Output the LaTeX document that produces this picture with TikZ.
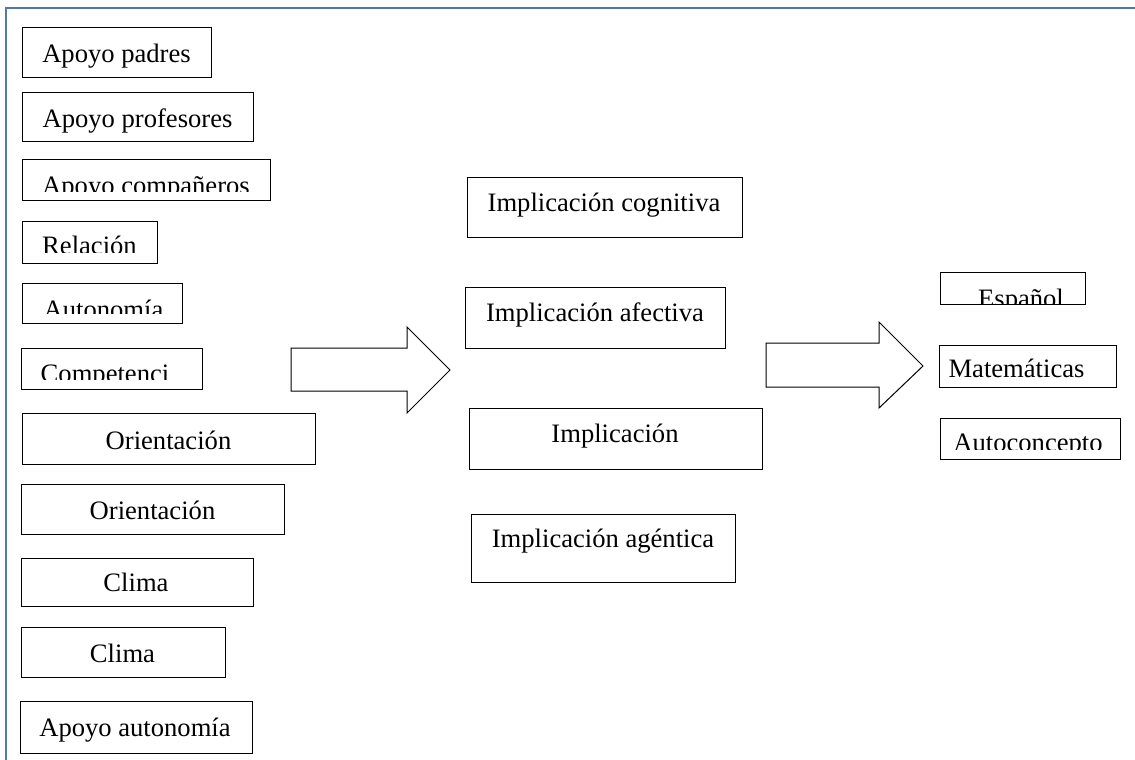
\documentclass[tikz,border=0pt]{standalone}
\usepackage{fontspec}
\setmainfont{Liberation Serif}
\usetikzlibrary{fit}

\definecolor{framecol}{RGB}{79,122,173}

\begin{document}
\begin{tikzpicture}[x=0.5pt, y=-0.5pt,
    box/.style={draw, line width=0.5pt, inner sep=0pt, fit={#1}},
    lbl/.style={anchor=base, inner sep=0pt, font=\fontsize{13.3}{16}\selectfont},
    bigarrow/.style={draw, line width=0.5pt, fill=white}]
    \useasboundingbox (0,0) rectangle (1135,760);

    % outer frame
    \draw[framecol, line width=1pt] (6,760) -- (6,8) -- (1135,8);

    % left column
    \node[box={(22,27) (211,77)}] (padres) {};
    \node[lbl] (padres-t) at (116.5,62.5) {Apoyo padres};
    \node[box={(22,92) (253,141)}] (profes) {};
    \node[lbl] (profes-t) at (137.5,127.5) {Apoyo profesores};
    \node[box={(22,159) (270,200)}] (companeros) {};
    \begin{scope}
        \clip (22,159) rectangle (270,191);
        \node[lbl] (companeros-t) at (146,194.5) {Apoyo compañeros};
    \end{scope}
    \node[box={(22,221) (157,263)}] (relacion) {};
    \begin{scope}
        \clip (22,221) rectangle (157,252.5);
        \node[lbl] (relacion-t) at (89.5,254.5) {Relación};
    \end{scope}
    \node[box={(22,283) (182,323)}] (autonomia) {};
    \begin{scope}
        \clip (22,283) rectangle (182,313.3);
        \node[lbl] (autonomia-t) at (103.5,318.5) {Autonomía};
    \end{scope}
    \node[box={(21,348) (202,389)}] (competencia) {};
    \begin{scope}
        \clip (21,348) rectangle (202,379.3);
        \node[lbl] (competencia-t) at (105,382) {Competenci};
    \end{scope}
    \node[box={(22,413) (315,464)}] (orient1) {};
    \node[lbl] (orient1-t) at (168.5,449) {Orientación};
    \node[box={(21,484) (284,534)}] (orient2) {};
    \node[lbl] (orient2-t) at (152.5,519) {Orientación};
    \node[box={(21,558) (253,606)}] (clima1) {};
    \node[lbl] (clima1-t) at (136,591.5) {Clima};
    \node[box={(21,627) (225,677)}] (clima2) {};
    \node[lbl] (clima2-t) at (122.5,662) {Clima};
    \node[box={(20,701) (252,753)}] (apoyoaut) {};
    \node[lbl] (apoyoaut-t) at (135,736) {Apoyo autonomía};

    % block arrows
    \draw[bigarrow] (291,348) -- (407,348) -- (407,327) -- (450,370)
        -- (407,413) -- (407,391) -- (291,391) -- cycle;
    \draw[bigarrow] (766,343) -- (879,343) -- (879,322) -- (923,366)
        -- (879,408) -- (879,387) -- (766,387) -- cycle;

    % middle column
    \node[box={(467,177) (742,237)}] (cognitiva) {};
    \node[lbl] (cognitiva-t) at (604,211) {Implicación cognitiva};
    \node[box={(465,287) (725,348)}] (afectiva) {};
    \node[lbl] (afectiva-t) at (595,321) {Implicación afectiva};
    \node[box={(469,408) (762,469)}] (implicacion) {};
    \node[lbl] (implicacion-t) at (615,442.6) {Implicación};
    \node[box={(471,514) (735,582)}] (agentica) {};
    \node[lbl] (agentica-t) at (603,547.6) {Implicación agéntica};

    % right column
    \node[box={(940,272) (1085,304)}] (espanol) {};
    \begin{scope}
        \clip (940,272) rectangle (1085,303.5);
        \node[lbl] (espanol-t) at (1021,307.6) {Español};
    \end{scope}
    \node[box={(939,345) (1116,387)}] (mates) {};
    \begin{scope}
        \clip (939,345) rectangle (1116,377.5);
        \node[lbl] (mates-t) at (1016.5,377.6) {Matemáticas};
    \end{scope}
    \node[box={(940,418) (1120,459)}] (autoconcepto) {};
    \begin{scope}
        \clip (940,418) rectangle (1120,449.3);
        \node[lbl] (autoconcepto-t) at (1028,451.6) {Autoconcepto};
    \end{scope}

\end{tikzpicture}
\end{document}
